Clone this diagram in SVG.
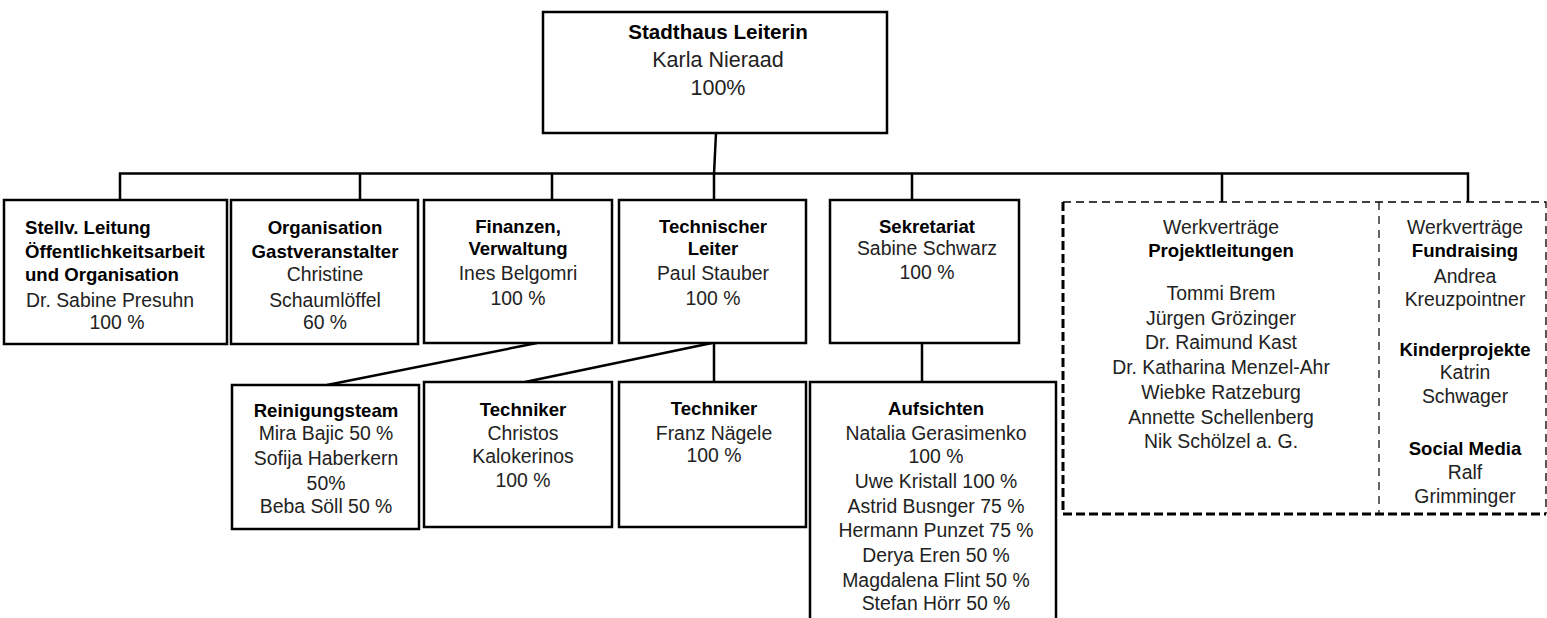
<svg xmlns="http://www.w3.org/2000/svg" width="1547" height="618" viewBox="0 0 1547 618">
<style>
.box{fill:#fff;stroke:#000;stroke-width:2.5}
.ln{fill:none;stroke:#000;stroke-width:2.5}
.t{font-family:"Liberation Sans",Arial,sans-serif;font-weight:700;font-size:18.6px;fill:#000;text-anchor:middle}
.n{font-family:"Liberation Sans",Arial,sans-serif;font-weight:400;font-size:19.4px;fill:#222;text-anchor:middle}
.s{text-anchor:start}
</style>
<rect width="1547" height="618" fill="#fff"/>
<g id="connectors">
<path class="ln" d="M716,133 L714,174"/>
<path class="ln" d="M120,200 V173.5 H1468 V202"/>
<path class="ln" d="M360,173.5 V200 M552,173.5 V200 M714,173.5 V200 M912,173.5 V200 M1222,173.5 V202"/>
<path class="ln" d="M537,343 L327,385 M712,343 L525,382 M714,343 V382 M922,343 V382"/>
</g>
<g id="leitung">
<rect class="box" x="543" y="12" width="344" height="121"/>
<text class="t" x="718" y="39" style="font-size:20.6px">Stadthaus Leiterin</text>
<text class="n" x="718" y="67" style="font-size:21.5px">Karla Nieraad</text>
<text class="n" x="718" y="95" style="font-size:21.5px">100%</text>
</g>
<g id="stellv">
<rect class="box" x="4" y="200" width="223" height="144"/>
<text class="t s" x="25" y="234">Stellv. Leitung</text>
<text class="t s" x="25" y="258">Öffentlichkeitsarbeit</text>
<text class="t s" x="25" y="281">und Organisation</text>
<text class="n s" x="26" y="307">Dr. Sabine Presuhn</text>
<text class="n" x="117" y="329">100 %</text>
</g>
<g id="organisation">
<rect class="box" x="231" y="200" width="187" height="144"/>
<text class="t" x="325" y="234">Organisation</text>
<text class="t" x="325" y="258">Gastveranstalter</text>
<text class="n" x="325" y="281">Christine</text>
<text class="n" x="325" y="307">Schaumlöffel</text>
<text class="n" x="325" y="329">60 %</text>
</g>
<g id="finanzen">
<rect class="box" x="424" y="200" width="188" height="143"/>
<text class="t" x="518" y="233">Finanzen,</text>
<text class="t" x="518" y="255">Verwaltung</text>
<text class="n" x="518" y="280">Ines Belgomri</text>
<text class="n" x="518" y="305">100 %</text>
</g>
<g id="technischer-leiter">
<rect class="box" x="619" y="200" width="187" height="143"/>
<text class="t" x="713" y="233">Technischer</text>
<text class="t" x="713" y="255">Leiter</text>
<text class="n" x="713" y="280">Paul Stauber</text>
<text class="n" x="713" y="305">100 %</text>
</g>
<g id="sekretariat">
<rect class="box" x="830" y="200" width="189" height="143"/>
<text class="t" x="927" y="233">Sekretariat</text>
<text class="n" x="927" y="255">Sabine Schwarz</text>
<text class="n" x="927" y="279">100 %</text>
</g>
<g id="werkvertraege">
<path d="M1063,202 H1546 V514" fill="none" stroke="#000" stroke-width="1.3" stroke-dasharray="8,5"/>
<path d="M1063,202 V514 H1546" fill="none" stroke="#000" stroke-width="3" stroke-dasharray="9,4"/>
<path d="M1379,202 V514" fill="none" stroke="#000" stroke-width="1.2" stroke-dasharray="8,6"/>
<text class="n" x="1221" y="234">Werkverträge</text>
<text class="t" x="1221" y="257">Projektleitungen</text>
<text class="n" x="1221" y="300">Tommi Brem</text>
<text class="n" x="1221" y="325">Jürgen Grözinger</text>
<text class="n" x="1221" y="349">Dr. Raimund Kast</text>
<text class="n" x="1221" y="374">Dr. Katharina Menzel-Ahr</text>
<text class="n" x="1221" y="399">Wiebke Ratzeburg</text>
<text class="n" x="1221" y="424">Annette Schellenberg</text>
<text class="n" x="1221" y="448">Nik Schölzel a. G.</text>
<text class="n" x="1465" y="234">Werkverträge</text>
<text class="t" x="1465" y="257">Fundraising</text>
<text class="n" x="1465" y="283">Andrea</text>
<text class="n" x="1465" y="306">Kreuzpointner</text>
<text class="t" x="1465" y="356">Kinderprojekte</text>
<text class="n" x="1465" y="379">Katrin</text>
<text class="n" x="1465" y="403">Schwager</text>
<text class="t" x="1465" y="455">Social Media</text>
<text class="n" x="1465" y="479">Ralf</text>
<text class="n" x="1465" y="503">Grimminger</text>
</g>
<g id="reinigungsteam">
<rect class="box" x="232" y="385" width="187" height="144"/>
<text class="t" x="326" y="417">Reinigungsteam</text>
<text class="n" x="326" y="440">Mira Bajic 50 %</text>
<text class="n" x="326" y="465">Sofija Haberkern</text>
<text class="n" x="326" y="490">50%</text>
<text class="n" x="326" y="513">Beba Söll 50 %</text>
</g>
<g id="techniker-1">
<rect class="box" x="424" y="382" width="188" height="145"/>
<text class="t" x="523" y="416">Techniker</text>
<text class="n" x="523" y="440">Christos</text>
<text class="n" x="523" y="463">Kalokerinos</text>
<text class="n" x="523" y="487">100 %</text>
</g>
<g id="techniker-2">
<rect class="box" x="619" y="382" width="187" height="145"/>
<text class="t" x="714" y="415">Techniker</text>
<text class="n" x="714" y="440">Franz Nägele</text>
<text class="n" x="714" y="462">100 %</text>
</g>
<g id="aufsichten">
<rect class="box" x="810" y="382" width="246" height="260"/>
<text class="t" x="936" y="415">Aufsichten</text>
<text class="n" x="936" y="440">Natalia Gerasimenko</text>
<text class="n" x="936" y="463">100 %</text>
<text class="n" x="936" y="488">Uwe Kristall 100 %</text>
<text class="n" x="936" y="513">Astrid Busnger 75 %</text>
<text class="n" x="936" y="537">Hermann Punzet 75 %</text>
<text class="n" x="936" y="562">Derya Eren 50 %</text>
<text class="n" x="936" y="587">Magdalena Flint 50 %</text>
<text class="n" x="936" y="610">Stefan Hörr 50 %</text>
</g>
</svg>
